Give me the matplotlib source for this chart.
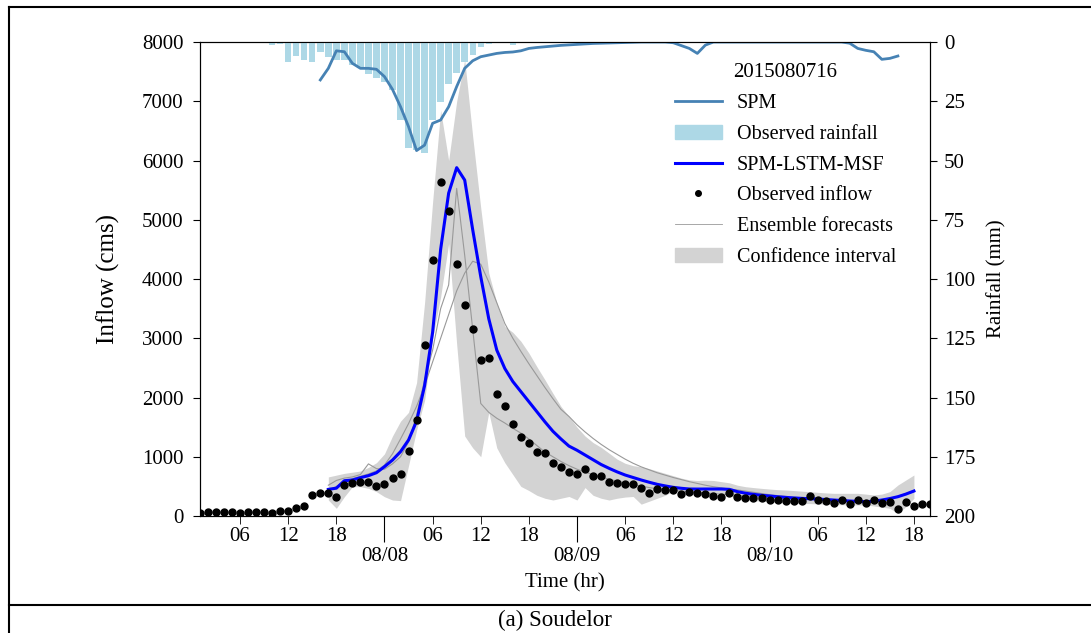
import matplotlib
matplotlib.use('Agg')
import matplotlib.pyplot as plt
from matplotlib.lines import Line2D
from matplotlib.patches import Patch
import numpy as np

plt.rcParams['font.family'] = 'Liberation Serif'

# hourly index, 0 = 2015/08/07 01:00
hours = np.arange(0, 92)
obs_inflow = [50, 60, 70, 60, 60, 50, 60, 60, 60, 50, 80, 90, 130, 175, 360, 383,
              383, 315, 523, 551, 568, 568, 512, 540, 636, 709, 1103, 1620, 2886, 4316,
              5632, 5148, 4259, 3561, 3156, 2633, 2672, 2054, 1857, 1558, 1333, 1238,
              1086, 1063, 889, 833, 737, 714, 793, 670, 675, 579, 551, 535, 535, 478,
              394, 450, 433, 433, 366, 405, 394, 371, 338, 326, 383, 315, 298, 298,
              298, 270, 270, 253, 253, 253, 332, 270, 253, 225, 270, 197, 270, 225,
              276, 225, 230, 118, 230, 169, 203, 203]

# forecast window (t = 16 .. 89)
t_fc = np.arange(16, 90)
lstm_msf = [450, 470, 596, 608, 647, 681, 731, 833, 945, 1086, 1283, 1600, 2200, 3100,
            4500, 5450, 5880, 5670, 4830, 4040, 3330, 2800, 2490, 2270, 2100, 1930,
            1760, 1590, 1430, 1300, 1180, 1110, 1030, 950, 870, 805, 745, 692, 650,
            608, 570, 535, 508, 484, 468, 456, 455, 456, 456, 456, 450, 411, 385, 366,
            350, 338, 325, 315, 305, 298, 292, 287, 278, 270, 262, 253, 247, 242, 250,
            270, 295, 326, 370, 422]
ens_1 = [520, 600, 640, 660, 700, 880, 800, 790, 880, 1000, 1250, 1700, 2300, 2800,
         3500, 3900, 5530, 4400, 3150, 1900, 1750, 1650, 1570, 1480, 1400, 1300, 1190,
         1080, 1000, 920, 850, 790, 740, 700, 660, 620, 590, 560, 530, 505, 480, 460,
         445, 430, 420, 410, 400, 390, 380, 370, 360, 350, 340, 330, 320, 310, 300, 295,
         290, 285, 280, 275, 270, 265, 260, 255, 250, 248, 255, 270, 295, 325, 365, 410]
ens_2 = [430, 500, 580, 630, 670, 710, 760, 860, 1050, 1300, 1560, 1850, 2200, 2600,
         3000, 3400, 3800, 4100, 4300, 4250, 3950, 3600, 3250, 3000, 2780, 2570, 2370,
         2170, 1980, 1800, 1680, 1540, 1420, 1310, 1210, 1120, 1040, 960, 890, 830, 780,
         730, 690, 650, 615, 580, 550, 520, 495, 475, 455, 440, 420, 400, 380, 360, 345,
         330, 318, 308, 300, 292, 285, 278, 270, 262, 256, 252, 258, 275, 300, 335, 380,
         430]
ci_high = [660, 690, 720, 740, 760, 820, 900, 1050, 1350, 1600, 1750, 2250, 3600, 5300,
           6850, 6000, 7000, 7700, 6400, 5200, 4100, 3600, 3200, 3100, 2950, 2750, 2520,
           2300, 2070, 1850, 1680, 1500, 1350, 1240, 1160, 1060, 960, 890, 850, 830, 800,
           760, 720, 680, 640, 610, 600, 605, 600, 580, 560, 520, 495, 480, 467, 455,
           445, 439, 430, 420, 411, 400, 390, 383, 383, 383, 383, 370, 355, 370, 411,
           523, 608, 692]
ci_low = [270, 130, 326, 495, 495, 467, 411, 326, 270, 260, 850, 1450, 1950, 3000, 3700,
          4600, 2900, 1350, 1150, 1000, 1750, 1150, 900, 700, 500, 430, 350, 300, 270,
          300, 330, 270, 480, 350, 300, 270, 300, 320, 330, 200, 250, 300, 350, 420, 440,
          400, 390, 380, 380, 385, 350, 300, 280, 260, 250, 240, 230, 220, 215, 212, 210,
          205, 200, 195, 190, 186, 186, 186, 170, 150, 130, 45, 158, 298]

# rainfall (mm), t = 9 .. 39
t_rain = np.arange(9, 40)
rain = [1.3, 1.0, 8.3, 5.8, 7.6, 8.6, 4.4, 6.2, 7.6, 7.6, 9.7, 11.1, 13.6, 15.3, 16.7,
        20.3, 32.9, 44.9, 45.6, 47.0, 33.0, 25.2, 17.5, 13.2, 8.3, 5.5, 2.0, 1.0, 0, 0,
        1.3]

# SPM, t = 15 .. 87 (right axis)
t_spm = np.arange(15, 88)
spm = [16, 11.1, 3.7, 4.1, 9, 11.1, 11.1, 11.5, 14.6, 20, 27.3, 35.7, 45.8, 43.5, 34.3,
       32.9, 27.3, 18.8, 11.1, 7.9, 6.2, 5.5, 4.8, 4.4, 4.2, 3.7, 2.7, 2.3, 2.0, 1.7,
       1.4, 1.2, 1.0, 0.8, 0.6, 0.5, 0.4, 0.3, 0.2, 0.1, 0, 0, 0, 0, 0.3, 1.5, 2.7, 4.8,
       1.3, 0, 0, 0, 0, 0, 0, 0, 0, 0, 0, 0, 0, 0, 0, 0, 0, 0, 0.5, 2.7, 3.5, 4.1, 7.3,
       6.9, 5.9]

date_ticks = [23, 47, 71]
date_labels = ['08/08', '08/09', '08/10']
hour_ticks = [5, 11, 17, 29, 35, 41, 53, 59, 65, 77, 83, 89]
hour_labels = ['06', '12', '18'] * 4

fig = plt.figure(figsize=(10.91, 6.33), dpi=100)
ax = fig.add_axes([0.1833, 0.1848, 0.6691, 0.7488])

ax.fill_between(t_fc, ci_low, ci_high, color='lightgrey', lw=0)
ax.plot(t_fc, ens_1, color='#999999', lw=0.8)
ax.plot(t_fc, ens_2, color='#999999', lw=0.8)
ax.plot(t_fc, lstm_msf, color='blue', lw=2.2)
ax.plot(hours, obs_inflow, 'o', color='black', ms=5)

ax.set_xlim(0, 91)
ax.set_ylim(0, 8000)
ax.set_yticks(range(0, 8001, 1000))
ax.tick_params(axis='y', labelsize=15, length=5, pad=7)
ax.set_xticks(date_ticks)
ax.set_xticklabels(date_labels)
ax.set_xticks(hour_ticks, minor=True)
ax.set_xticklabels(hour_labels, minor=True)
ax.tick_params(axis='x', which='major', length=19, labelsize=15, pad=3)
ax.tick_params(axis='x', which='minor', length=6, labelsize=15, pad=2)

ax.set_ylabel('Inflow (cms)', fontsize=18, va='center')
ax.yaxis.set_label_coords(-0.126, 0.5)
ax.set_xlabel('Time (hr)', fontsize=15, va='center')
ax.xaxis.set_label_coords(0.5, -0.142)

ax2 = ax.twinx()
ax2.bar(t_rain, rain, width=0.8, color='lightblue')
ax2.plot(t_spm, spm, color='steelblue', lw=2)
ax2.set_ylim(200, 0)
ax2.set_yticks(range(0, 201, 25))
ax2.tick_params(axis='y', labelsize=15, length=5, pad=5)
ax2.set_ylabel('Rainfall (mm)', fontsize=15, va='center', rotation=90)
ax2.yaxis.set_label_coords(1.092, 0.5)

handles = [Line2D([], [], color='steelblue', lw=2),
           Patch(color='lightblue'),
           Line2D([], [], color='blue', lw=2.2),
           Line2D([], [], marker='o', color='black', ls='', ms=4),
           Line2D([], [], color='#999999', lw=0.6),
           Patch(color='lightgrey')]
labels = ['SPM', 'Observed rainfall', 'SPM-LSTM-MSF', 'Observed inflow',
          'Ensemble forecasts', 'Confidence interval']
ax2.legend(handles, labels, title='2015080716', loc='upper left',
           bbox_to_anchor=(0.651, 0.955), frameon=False, fontsize=14.5,
           title_fontsize=15, borderaxespad=0, borderpad=0, handlelength=2.3,
           handletextpad=0.75, labelspacing=0.58)

# table border around the figure
x0 = 9 / 1091
y_top, y_mid = 1 - 7 / 633, 1 - 605 / 633
for xs, ys in [([x0, 1], [y_top, y_top]), ([x0, x0], [0, y_top]),
               ([x0, 1], [y_mid, y_mid])]:
    fig.add_artist(Line2D(xs, ys, transform=fig.transFigure, color='black', lw=1.5))

fig.text(555 / 1091, 1 - 620 / 633, '(a) Soudelor', ha='center', va='center', fontsize=16.5)

fig.savefig('out.png', dpi=100)
